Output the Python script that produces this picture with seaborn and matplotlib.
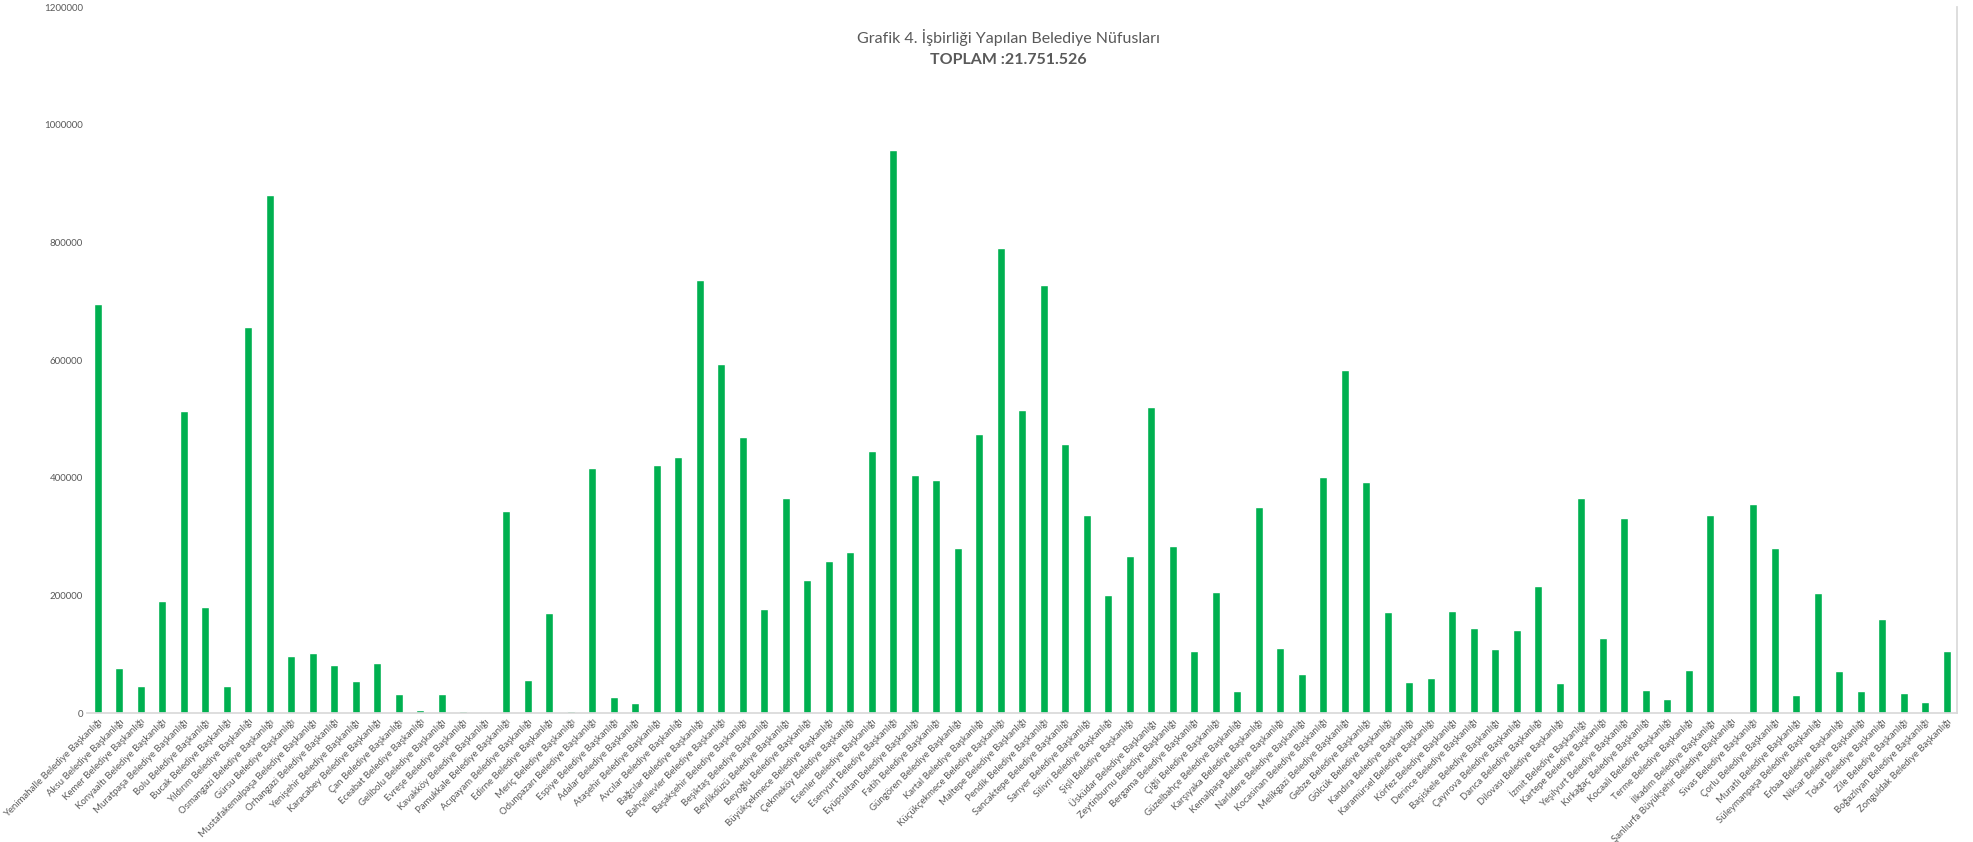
import pandas as pd
import numpy as np
import matplotlib.pyplot as plt
import seaborn as sns

# Belediye names (x axis order as in the source chart)
districts = [
    'Yenimahalle', 'Aksu', 'Kemer', 'Konyaaltı', 'Muratpaşa', 'Bolu', 'Bucak',
    'Yıldırım', 'Osmangazi', 'Gürsu', 'Mustafakemalpaşa', 'Orhangazi', 'Yenişehir',
    'Karacabey', 'Çan', 'Eceabat', 'Gelibolu', 'Evreşe', 'Kavakköy', 'Pamukkale',
    'Acıpayam', 'Edirne', 'Meriç', 'Odunpazarı', 'Espiye', 'Adalar', 'Ataşehir',
    'Avcılar', 'Bağcılar', 'Bahçelievler', 'Başakşehir', 'Beşiktaş', 'Beylikdüzü',
    'Beyoğlu', 'Büyükçekmece', 'Çekmeköy', 'Esenler', 'Esenyurt', 'Eyüpsultan',
    'Fatih', 'Güngören', 'Kartal', 'Küçükçekmece', 'Maltepe', 'Pendik', 'Sancaktepe',
    'Sarıyer', 'Silivri', 'Şişli', 'Üsküdar', 'Zeytinburnu', 'Bergama', 'Çiğli',
    'Güzelbahçe', 'Karşıyaka', 'Kemalpaşa', 'Narlıdere', 'Kocasinan', 'Melikgazi',
    'Gebze', 'Gölcük', 'Kandıra', 'Karamürsel', 'Körfez', 'Derince', 'Başiskele',
    'Çayırova', 'Darıca', 'Dilovası', 'İzmit', 'Kartepe', 'Yeşilyurt', 'Kırkağaç',
    'Kocaali', 'Terme', 'İlkadım', 'Şanlıurfa Büyükşehir', 'Sivas', 'Çorlu',
    'Muratlı', 'Süleymanpaşa', 'Erbaa', 'Niksar', 'Tokat', 'Zile', 'Boğazlıyan',
    'Zonguldak',
]

# populations
population = [
    695000, 76000, 46000, 190000, 513000, 180000, 46000,
    657000, 880000, 98000, 103000, 82000, 55000,
    86000, 32000, 6000, 32000, 3000, 1500, 343000,
    56000, 170000, 4000, 416000, 27000, 17000, 422000,
    436000, 737000, 594000, 470000, 177000, 366000,
    227000, 258000, 274000, 446000, 958000, 405000,
    397000, 281000, 474000, 790000, 515000, 727000, 457000,
    336000, 201000, 267000, 520000, 284000, 106000, 206000,
    38000, 350000, 111000, 66000, 401000, 583000,
    393000, 172000, 53000, 59000, 174000, 145000, 109000,
    141000, 216000, 52000, 366000, 127000, 332000, 40000,
    24000, 73000, 337000, 0, 355000, 280000,
    31000, 204000, 71000, 37000, 160000, 34000, 19000,
    105000,
]

labels = [d + ' Belediye Başkanlığı' for d in districts]
y_ticks = [0, 200000, 400000, 600000, 800000, 1000000, 1200000]

df = pd.DataFrame({'Belediye': labels, 'Nufus': population})

sns.set_theme(style="white")
plt.rcParams['font.family'] = ['Lato', 'DejaVu Sans']

fig = plt.figure(figsize=(19.73, 8.42), dpi=100)
ax = fig.add_axes([0.0441, 0.153, 0.948, 0.8385])

sns.barplot(data=df, x='Belediye', y='Nufus', color='#00B050', width=0.36,
            saturation=1, ax=ax)

ax.set_ylim(0, 1200000)
ax.set_xlim(-0.5, len(labels) - 0.5)
ax.set_yticks(y_ticks)
ax.set_yticklabels([str(v) for v in y_ticks], fontsize=7, color='#595959')
ax.set_xticks(range(len(labels)))
ax.set_xticklabels(labels, rotation=45, ha='right', rotation_mode='anchor',
                   fontsize=6.9, color='#595959')
ax.tick_params(axis='both', length=0, pad=3)
ax.set_xlabel('')
ax.set_ylabel('')

for side in ['top', 'left']:
    ax.spines[side].set_visible(False)
ax.spines['bottom'].set_color('#d9d9d9')
ax.spines['right'].set_color('#d9d9d9')

fig.text(0.511, 0.955, 'Grafik 4. İşbirliği Yapılan Belediye Nüfusları',
         ha='center', va='center', fontsize=11.5, color='#595959')
fig.text(0.511, 0.929, 'TOPLAM :21.751.526', ha='center', va='center',
         fontsize=11.5, fontweight='bold', color='#595959')

fig.savefig('out.png', dpi=100)
plt.close(fig)
